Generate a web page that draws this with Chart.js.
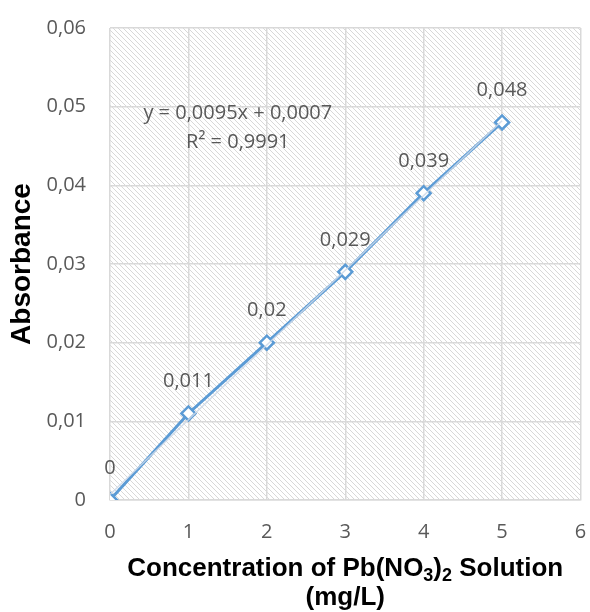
<!DOCTYPE html>
<html>
<head>
<meta charset="utf-8">
<script src="https://cdn.jsdelivr.net/npm/chart.js@4"></script>
<style>
  html, body { margin: 0; padding: 0; background: #fff; }
  canvas { display: block; }
</style>
</head>
<body>
<canvas id="c" width="590" height="612"></canvas>
<script>
// data
const concentrations = [0, 1, 2, 3, 4, 5];
const absorbance = [0, 0.011, 0.02, 0.029, 0.039, 0.048];
const trendX = [0, 5];
const trendY = [0.0007, 0.0482];
const equationLines = ['y = 0,0095x + 0,0007', 'R² = 0,9991'];
const equationAt = { x: 1.63, y: 0.0491 };
// x title, pieces flagged true are subscripts
const xTitle1 = [['Concentration of Pb(NO', false], ['3', true], [')', false], ['2', true], [' Solution', false]];
const xTitle2 = '(mg/L)';

const blue = '#5b9bd5';
const grey = '#595959';
const comma = v => String(v).replace('.', ',');

// diagonal hatch behind the plot
const hatch = {
  id: 'hatch',
  beforeDraw(chart) {
    const { ctx, chartArea: a } = chart;
    const n = 5;
    const tile = document.createElement('canvas');
    tile.width = n; tile.height = n;
    const t = tile.getContext('2d');
    t.strokeStyle = '#d8d8d8';
    t.lineWidth = 1;
    t.beginPath();
    t.moveTo(-1, -1); t.lineTo(n + 1, n + 1);
    t.moveTo(-1, n - 1); t.lineTo(1, n + 1);
    t.moveTo(n - 1, -1); t.lineTo(n + 1, 1);
    t.stroke();
    ctx.save();
    ctx.fillStyle = ctx.createPattern(tile, 'repeat');
    ctx.fillRect(a.left, a.top, a.right - a.left, a.bottom - a.top);
    ctx.restore();
  }
};

// value labels, trendline equation and the x title with subscripts
const labels = {
  id: 'labels',
  afterDatasetsDraw(chart) {
    const { ctx, chartArea: a, scales: { x, y } } = chart;
    ctx.save();
    ctx.font = '20px "Open Sans"';
    ctx.fillStyle = grey;
    ctx.textAlign = 'center';
    ctx.textBaseline = 'middle';
    chart.getDatasetMeta(1).data.forEach((pt, i) => {
      ctx.fillText(comma(absorbance[i]), pt.x, pt.y - 32);
    });
    const ex = x.getPixelForValue(equationAt.x);
    const ey = y.getPixelForValue(equationAt.y);
    equationLines.forEach((s, i) => ctx.fillText(s, ex, ey + i * 29));

    const big = 'bold 26px "Liberation Sans", Arial, sans-serif';
    const small = 'bold 18px "Liberation Sans", Arial, sans-serif';
    ctx.fillStyle = '#000';
    ctx.textAlign = 'left';
    ctx.textBaseline = 'alphabetic';
    let w = 0;
    xTitle1.forEach(([s, sub]) => { ctx.font = sub ? small : big; w += ctx.measureText(s).width; });
    const cx = (a.left + a.right) / 2;
    let px = cx - w / 2;
    const base = a.bottom + 76;
    xTitle1.forEach(([s, sub]) => {
      ctx.font = sub ? small : big;
      ctx.fillText(s, px, sub ? base + 5 : base);
      px += ctx.measureText(s).width;
    });
    ctx.font = big;
    ctx.textAlign = 'center';
    ctx.fillText(xTitle2, cx, base + 29);
    ctx.restore();
  }
};

new Chart(document.getElementById('c'), {
  type: 'scatter',
  data: {
    datasets: [{
      label: 'trend',
      data: trendX.map((v, i) => ({ x: v, y: trendY[i] })),
      showLine: true,
      borderColor: 'rgba(205,216,232,0.85)',
      borderWidth: 1.5,
      pointRadius: 0
    }, {
      label: 'Absorbance',
      data: concentrations.map((v, i) => ({ x: v, y: absorbance[i] })),
      showLine: true,
      borderColor: blue,
      borderWidth: 3,
      pointStyle: 'rectRot',
      pointRadius: 7,
      pointBorderWidth: 2.5,
      pointBackgroundColor: '#fff',
      pointBorderColor: blue
    }]
  },
  options: {
    responsive: false,
    animation: { duration: 0 },
    layout: { padding: { top: 28, right: 8, left: 0, bottom: 0 } },
    plugins: { legend: { display: false }, tooltip: { enabled: false } },
    scales: {
      x: {
        type: 'linear', min: 0, max: 6,
        ticks: { stepSize: 1, color: grey, font: { family: 'Open Sans', size: 20 }, padding: 20 },
        grid: { color: '#d9d9d9', lineWidth: 1.5, drawTicks: false },
        border: { color: '#d9d9d9', width: 1.5 },
        afterFit(s) { s.height = 112; s.paddingLeft = 0; s.paddingRight = 0; }
      },
      y: {
        min: 0, max: 0.06,
        ticks: {
          stepSize: 0.01, color: grey, font: { family: 'Open Sans', size: 20 }, padding: 24,
          callback: v => v === 0 ? '0' : v.toFixed(2).replace('.', ',')
        },
        grid: { color: '#d9d9d9', lineWidth: 1.5, drawTicks: false },
        border: { display: false },
        title: {
          display: true, text: 'Absorbance', color: '#000',
          font: { family: 'Liberation Sans', size: 28, weight: 'bold' },
          padding: { top: 5, bottom: 0 }
        },
        afterFit(s) { s.width = 110; s.paddingTop = 0; s.paddingBottom = 0; }
      }
    }
  },
  plugins: [hatch, labels]
});
</script>
</body>
</html>
